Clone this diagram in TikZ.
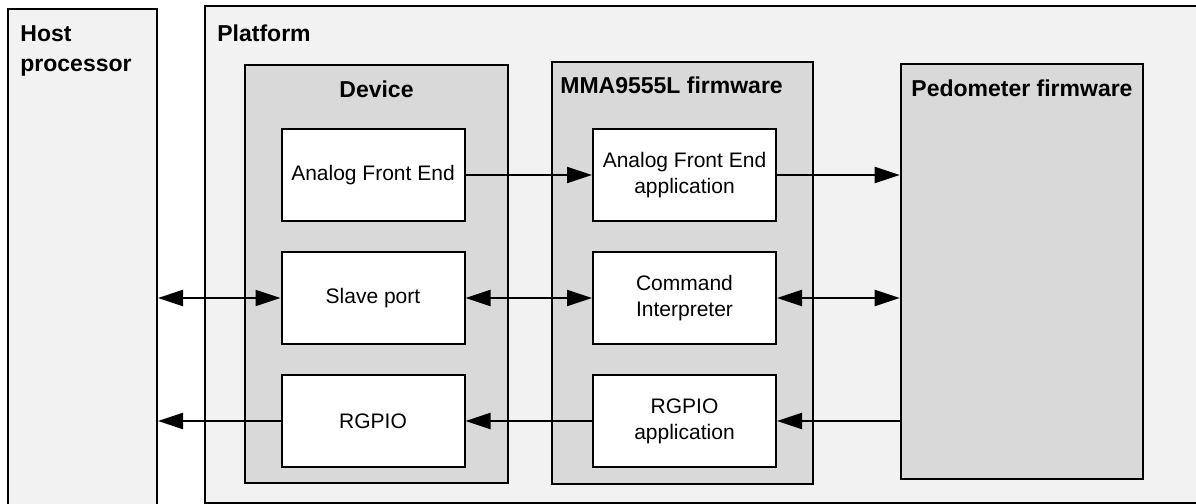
\documentclass[tikz,border=0pt]{standalone}
\usepackage{fontspec}
\setmainfont{Liberation Sans}
\usetikzlibrary{arrows.meta}
\definecolor{outergray}{HTML}{F2F2F2}
\definecolor{innergray}{HTML}{D9D9D9}
\tikzset{
  frame/.style={draw, line width=1pt, inner sep=0pt},
  block/.style={frame, fill=white, minimum width=91.5pt, minimum height=46pt,
    align=center, font=\fontsize{10.5pt}{13pt}\selectfont},
  title/.style={inner sep=0pt, font=\bfseries\fontsize{11.5pt}{15pt}\selectfont},
  tip/.style={Triangle[length=12.5pt,width=8pt]},
  link/.style={line width=1pt, -{Triangle[length=12.5pt,width=8pt]}},
  dlink/.style={line width=1pt, {Triangle[length=12.5pt,width=8pt]}-{Triangle[length=12.5pt,width=8pt]}},
}
\begin{document}
\begin{tikzpicture}[x=0.5pt,y=-0.5pt]
        \useasboundingbox (0,0) rectangle (1196,504);
        \clip (0,0) rectangle (1196,504);
        %% NOTE: outer frames
        \node[frame, fill=outergray, minimum width=505.5pt, minimum height=248.5pt] (platform) at (710.5,254.5) {};
        \node[frame, fill=outergray, minimum width=74.5pt, minimum height=255.5pt] (host) at (82.5,264.5) {};
        \node[title, anchor=north west, align=left] (hostlabel) at (20,25) {Host\\processor};
        \node[title, anchor=base west] (platformlabel) at (217,41) {Platform};
        %% containers
        \node[frame, fill=innergray, minimum width=131.5pt, minimum height=209pt] (device) at (376.5,274) {};
        \node[frame, fill=innergray, minimum width=130.5pt, minimum height=211pt] (mma) at (682.5,273) {};
        \node[frame, line width=1.3pt, fill=innergray, minimum width=121pt, minimum height=207.5pt] (ped) at (1022,271.5) {};
        \node[title, anchor=base] (devicelabel) at (376.5,97) {Device};
        \node[title, anchor=base west] (mmalabel) at (560,93) {MMA9555L firmware};
        \node[title, anchor=base] (pedlabel) at (1022,96) {Pedometer firmware};
        %% blocks
        \node[block] (afe) at (373,175) {Analog Front End};
        \node[block] (slave) at (373,298) {Slave port};
        \node[block] (rgpio) at (373,421) {RGPIO};
        \node[block] (afeapp) at (684.5,175) {Analog Front End\\application};
        \node[block] (cmd) at (684.5,298) {Command\\Interpreter};
        \node[block] (rgpioapp) at (684.5,421) {RGPIO\\application};
        %% arrows
        \draw[link] (afe.east) -- (afeapp.west);
        \draw[link] (afeapp.east) -- (afeapp.east -| ped.west);
        \draw[dlink] (slave.west -| host.east) -- (slave.west);
        \draw[dlink] (slave.east) -- (cmd.west);
        \draw[dlink] (cmd.east) -- (cmd.east -| ped.west);
        \draw[link] (rgpio.west) -- (rgpio.west -| host.east);
        \draw[link] (rgpioapp.west) -- (rgpio.east);
        \draw[link] (rgpioapp.east -| ped.west) -- (rgpioapp.east);
    \end{tikzpicture}
\end{document}
